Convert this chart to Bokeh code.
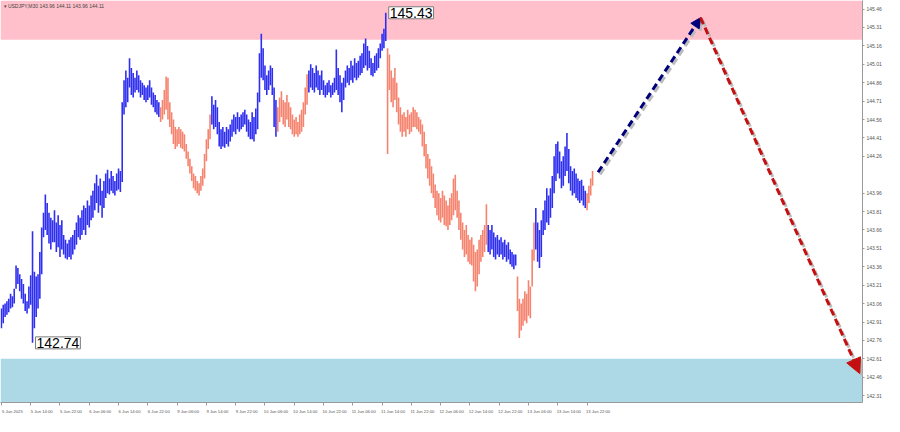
import numpy as np
from bokeh.plotting import figure
from bokeh.models import (Range1d, FixedTicker, NumeralTickFormatter, BoxAnnotation,
                          Label, Arrow, NormalHead, ColumnDataSource)
from bokeh.embed import file_html
from bokeh.resources import INLINE

# ---------------- data (USDJPY, M30 bars) ----------------
highs = [
    143.02, 143.05, 143.06, 143.08, 143.10, 143.14, 143.12, 143.18, 143.37, 143.35,
    143.30, 143.26, 143.22, 143.14, 143.08, 143.20, 143.29, 143.65, 143.32, 143.28,
    143.30, 143.48, 143.68, 143.80, 143.95, 143.88, 143.80, 143.76, 143.74, 143.82,
    143.72, 143.78, 143.70, 143.74, 143.62, 143.58, 143.55, 143.58, 143.60, 143.62,
    143.66, 143.72, 143.78, 143.76, 143.82, 143.86, 143.84, 143.90, 143.86, 143.94,
    143.98, 144.04, 144.11, 144.02, 144.08, 143.98, 144.06, 144.12, 144.15, 144.08,
    144.14, 144.10, 144.06, 144.12, 144.16, 144.14, 144.70, 144.88, 144.96, 144.90,
    145.06, 144.98, 144.94, 144.90, 144.96, 144.92, 144.88, 144.86, 144.84, 144.82,
    144.84, 144.88, 144.82, 144.78, 144.76, 144.72, 144.70, 144.66, 144.72, 144.80,
    144.91, 144.90, 144.70, 144.62, 144.56, 144.50, 144.48, 144.50, 144.48, 144.46,
    144.44, 144.36, 144.30, 144.24, 144.18, 144.12, 144.10, 144.06, 144.04, 144.10,
    144.16, 144.28, 144.40, 144.48, 144.60, 144.75, 144.68, 144.72, 144.66, 144.54,
    144.48, 144.50, 144.46, 144.50, 144.48, 144.52, 144.56, 144.60, 144.58, 144.62,
    144.58, 144.60, 144.62, 144.64, 144.60, 144.56, 144.54, 144.62, 144.58, 144.65,
    144.78, 145.10, 145.26, 145.14, 145.00, 144.92, 144.96, 145.00, 144.98, 144.82,
    144.72, 144.66, 144.74, 144.79, 144.72, 144.70, 144.76, 144.70, 144.66, 144.60,
    144.56, 144.58, 144.54, 144.60, 144.64, 144.70, 144.82, 144.93, 144.96, 145.01,
    144.98, 144.94, 145.00, 144.96, 144.92, 144.96, 144.88, 144.84, 144.86, 144.88,
    144.84, 144.86, 144.90, 145.13, 144.98, 144.92, 144.86, 144.90, 144.96, 145.00,
    144.98, 145.04, 145.00, 145.06, 145.02, 145.04, 145.08, 145.10, 145.18, 145.22,
    145.16, 145.12, 145.06, 145.02, 145.08, 145.10, 145.14, 145.18, 145.26, 145.30,
    145.43, 145.14, 145.09, 144.96, 144.90, 144.98, 144.86, 144.74, 144.66, 144.60,
    144.62, 144.58, 144.64, 144.60, 144.62, 144.66, 144.64, 144.62, 144.58, 144.56,
    144.52, 144.46, 144.36, 144.28, 144.24, 144.18, 144.12, 144.03, 143.98, 143.96,
    143.92, 143.98, 143.94, 143.90, 143.86, 143.92, 143.96, 144.08, 144.11, 143.98,
    143.90, 143.80, 143.72, 143.66, 143.70, 143.62, 143.58, 143.60, 143.54, 143.48,
    143.50, 143.58, 143.62, 143.66, 143.70, 143.87, 143.70, 143.66, 143.70, 143.64,
    143.60, 143.62, 143.58, 143.60, 143.56, 143.58, 143.54, 143.56, 143.50, 143.48,
    143.46, 143.46, 143.28, 143.10, 143.06, 143.10, 143.16, 143.14, 143.25, 143.20,
    143.50, 143.72, 143.84, 143.72, 143.66, 143.74, 143.82, 143.90, 144.00, 143.94,
    144.00, 144.10, 144.26, 144.36, 144.38, 144.30, 144.22, 144.26, 144.34, 144.45,
    144.32, 144.18, 144.14, 144.16, 144.12, 144.08, 144.06, 144.07, 144.02, 143.98,
    143.96, 144.02, 144.08, 144.14,
]
lows = [
    142.86, 142.90, 142.95, 142.97, 142.99, 143.02, 143.03, 143.06, 143.18, 143.22,
    143.16, 143.10, 143.06, 143.00, 142.98, 143.02, 143.05, 142.74, 142.86, 142.95,
    143.02, 143.10, 143.30, 143.60, 143.66, 143.62, 143.55, 143.50, 143.56, 143.56,
    143.48, 143.52, 143.44, 143.50, 143.46, 143.43, 143.42, 143.44, 143.42, 143.46,
    143.50, 143.54, 143.60, 143.58, 143.62, 143.66, 143.62, 143.70, 143.68, 143.74,
    143.76, 143.82, 143.88, 143.80, 143.86, 143.76, 143.84, 143.92, 143.96, 143.95,
    143.98, 143.96, 143.94, 143.98, 143.99, 143.97, 144.05, 144.60, 144.66, 144.70,
    144.82, 144.76, 144.74, 144.78, 144.80, 144.78, 144.74, 144.76, 144.72, 144.70,
    144.72, 144.74, 144.68, 144.66, 144.62, 144.60, 144.58, 144.54, 144.56, 144.60,
    144.64, 144.56, 144.50, 144.44, 144.36, 144.32, 144.34, 144.36, 144.33, 144.32,
    144.30, 144.24, 144.18, 144.12, 144.06, 144.00, 143.98, 143.96, 143.94, 143.98,
    144.02, 144.08, 144.22, 144.32, 144.40, 144.52, 144.48, 144.50, 144.44, 144.34,
    144.32, 144.34, 144.33, 144.36, 144.34, 144.38, 144.42, 144.46, 144.44, 144.48,
    144.46, 144.48, 144.50, 144.52, 144.46, 144.42, 144.40, 144.40, 144.38, 144.44,
    144.48, 144.70, 144.90, 144.88, 144.80, 144.76, 144.80, 144.84, 144.76, 144.50,
    144.42, 144.46, 144.54, 144.58, 144.52, 144.50, 144.56, 144.50, 144.48, 144.44,
    144.42, 144.44, 144.42, 144.44, 144.46, 144.50, 144.60, 144.68, 144.78, 144.82,
    144.80, 144.78, 144.82, 144.80, 144.76, 144.80, 144.76, 144.74, 144.76, 144.78,
    144.74, 144.76, 144.78, 144.80, 144.76, 144.70, 144.62, 144.72, 144.82, 144.86,
    144.84, 144.88, 144.86, 144.90, 144.88, 144.90, 144.92, 144.94, 144.98, 145.00,
    144.96, 144.98, 144.92, 144.91, 144.94, 144.96, 144.98, 145.06, 145.12, 145.14,
    145.20, 144.28, 144.80, 144.70, 144.66, 144.72, 144.62, 144.52, 144.46, 144.42,
    144.46, 144.42, 144.48, 144.44, 144.46, 144.50, 144.50, 144.48, 144.46, 144.44,
    144.34, 144.26, 144.16, 144.08, 144.02, 143.96, 143.92, 143.84, 143.78, 143.74,
    143.72, 143.76, 143.70, 143.69, 143.66, 143.70, 143.74, 143.78, 143.82, 143.76,
    143.66, 143.58, 143.50, 143.44, 143.46, 143.40, 143.38, 143.37, 143.24, 143.16,
    143.20, 143.30, 143.40, 143.44, 143.48, 143.54, 143.48, 143.46, 143.50, 143.44,
    143.42, 143.46, 143.44, 143.46, 143.42, 143.44, 143.40, 143.42, 143.38, 143.36,
    143.34, 143.37, 143.00, 142.78, 142.84, 142.88, 142.92, 142.90, 142.96, 142.94,
    143.20, 143.41, 143.50, 143.40, 143.35, 143.44, 143.62, 143.66, 143.72, 143.70,
    143.76, 143.84, 143.96, 144.06, 144.12, 144.08, 144.00, 144.02, 144.10, 144.14,
    144.04, 143.98, 143.94, 143.96, 143.92, 143.90, 143.88, 143.90, 143.86, 143.84,
    143.82, 143.88, 143.94, 144.02,
]
assert len(highs) == len(lows) == 324

# wave segments (first bar of each wave, and its direction)
wave_starts = [0, 87, 115, 151, 168, 211, 266, 282, 292, 320]
wave_kinds = ["up", "down", "up", "down", "up", "down", "up", "down", "up", "down"]

# forecast path (bar index, price)
forecast_bars = [326, 382, 469]
forecast_prices = [144.13, 145.39, 142.49]

# zones
resistance_low = 145.21
support_high = 142.61

header_text = "\u25be USDJPY,M30  143.96 144.11 143.96 144.11"

# axes
price_ticks = [145.46, 145.31, 145.16, 145.01, 144.86, 144.71, 144.56, 144.41, 144.26,
               143.96, 143.81, 143.66, 143.51, 143.36, 143.21, 143.06, 142.91, 142.76,
               142.61, 142.46, 142.31]
tick_labels = ["5 Jun 2025", "5 Jun 14:00", "5 Jun 22:00", "6 Jun 06:00", "6 Jun 14:00",
               "6 Jun 22:00", "9 Jun 06:00", "9 Jun 14:00", "9 Jun 22:00", "10 Jun 06:00",
               "10 Jun 14:00", "10 Jun 22:00", "11 Jun 06:00", "11 Jun 14:00", "11 Jun 22:00",
               "12 Jun 06:00", "12 Jun 14:00", "12 Jun 22:00", "13 Jun 06:00", "13 Jun 14:00",
               "13 Jun 22:00"]
tick_bars = [0, 16, 32, 48, 64, 80, 96, 112, 128, 144, 160, 176, 192, 208, 224, 240,
             256, 272, 288, 304, 320]

# ---------------- styling ----------------
UP = "#2F2FF0"
DOWN = "#F5836E"
kind_color = {"up": UP, "down": DOWN}

n = len(highs)
idx = np.arange(n)
colors = []
for k in range(len(wave_starts)):
    end = wave_starts[k + 1] if k + 1 < len(wave_starts) else n
    colors += [kind_color[wave_kinds[k]]] * (end - wave_starts[k])

src = ColumnDataSource(dict(x=idx, hi=highs, lo=lows, c=colors))

p = figure(width=884, height=416, output_backend="svg", toolbar_location=None,
           x_range=Range1d(-0.5, 470.5), y_range=Range1d(142.254, 145.53),
           y_axis_location="right", min_border=0)
p.background_fill_color = "white"
p.border_fill_color = "white"
p.outline_line_color = None
p.grid.visible = False

p.add_layout(BoxAnnotation(bottom=resistance_low, fill_color="#FFC0CB", fill_alpha=1.0,
                           line_color=None, level="underlay"))
p.add_layout(BoxAnnotation(top=support_high, fill_color="#ADD8E6", fill_alpha=1.0,
                           line_color=None, level="underlay"))

p.segment(x0="x", y0="lo", x1="x", y1="hi", color="c", line_width=1.6, source=src)

# forecast arrows (with soft shadow)
dx, dy = 1.1, -0.018
segs = [(0, "#00007A", 10), (1, "#C41010", 15)]
for k, col, hs in segs:
    x0, y0 = forecast_bars[k], forecast_prices[k]
    x1, y1 = forecast_bars[k + 1], forecast_prices[k + 1]
    p.add_layout(Arrow(x_start=x0 + dx, y_start=y0 + dy, x_end=x1 + dx, y_end=y1 + dy,
                       line_color="#BBBBBB", line_width=3, line_dash="7 4",
                       end=NormalHead(size=hs, fill_color="#BBBBBB", line_color="#BBBBBB")))
for k, col, hs in segs:
    x0, y0 = forecast_bars[k], forecast_prices[k]
    x1, y1 = forecast_bars[k + 1], forecast_prices[k + 1]
    p.add_layout(Arrow(x_start=x0, y_start=y0, x_end=x1, y_end=y1,
                       line_color=col, line_width=3, line_dash="7 4",
                       end=NormalHead(size=hs, fill_color=col, line_color=col)))

# extreme labels
hi_i = int(np.argmax(highs))
lo_i = int(np.argmin(lows))
for xi, yv in [(hi_i, highs[hi_i]), (lo_i, lows[lo_i])]:
    p.add_layout(Label(x=xi, y=yv, x_offset=3, text=f"{yv:.2f}", text_align="left",
                       text_baseline="middle", text_font="Liberation Sans",
                       text_font_size="14px", text_color="black",
                       background_fill_color="white", border_line_color="#7A7A7A",
                       border_line_width=1, padding=1))

# header
p.add_layout(Label(x=-0.5, y=145.53, x_offset=3, y_offset=-2, text=header_text,
                   text_align="left", text_baseline="top", text_font="Liberation Sans",
                   text_font_size="5px", text_color="#444444"))

# axes
ya = p.yaxis[0]
ya.ticker = FixedTicker(ticks=price_ticks)
ya.formatter = NumeralTickFormatter(format="0.00")
ya.major_label_text_font = "Liberation Sans"
ya.major_label_text_font_size = "5px"
ya.major_label_text_color = "#555555"
ya.axis_line_color = "#9A9A9A"
ya.major_tick_line_color = "#9A9A9A"
ya.major_tick_in = 0
ya.major_tick_out = 2
ya.minor_tick_line_color = None
ya.major_label_standoff = 2

# x labels start at their tick (MT4 style): labels sit on shifted major ticks,
# the visible tick marks are minor ticks at the true bar positions
label_shift = 6
label_pos = [b + label_shift for b in tick_bars]
xa = p.xaxis[0]
xa.ticker = FixedTicker(ticks=label_pos, minor_ticks=tick_bars)
xa.major_label_overrides = {b: t for b, t in zip(label_pos, tick_labels)}
xa.major_label_text_font = "Liberation Sans"
xa.major_label_text_font_size = "4.2px"
xa.major_label_text_color = "#555555"
xa.axis_line_color = "#9A9A9A"
xa.major_tick_line_color = None
xa.major_tick_in = 0
xa.major_tick_out = 0
xa.minor_tick_line_color = "#9A9A9A"
xa.minor_tick_in = 0
xa.minor_tick_out = 3
xa.major_label_standoff = 3

open("out.html", "w").write(file_html(p, INLINE))
